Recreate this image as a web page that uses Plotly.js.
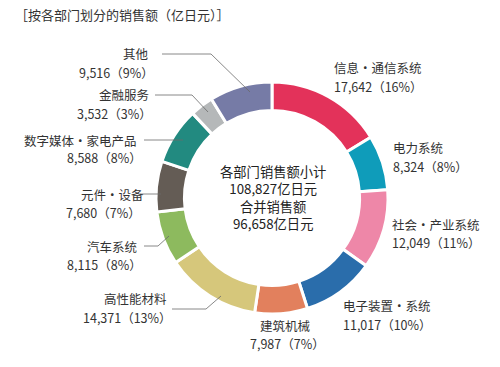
<!DOCTYPE html>
<html>
<head>
<meta charset="utf-8">
<script src="https://cdn.plot.ly/plotly-3.0.1.min.js"></script>
<style>
  html, body { margin: 0; padding: 0; background: #fff; }
  #chart { width: 500px; height: 367px; }
</style>
</head>
<body>
<div id="chart"></div>
<script>
// ---- Data ----
const categories = ["信息·通信系统", "电力系统", "社会·产业系统", "电子装置·系统", "建筑机械",
  "高性能材料", "汽车系统", "元件·设备", "数字媒体·家电产品", "金融服务", "其他"];
const sales = [17642, 8324, 12049, 11017, 7987, 14371, 8115, 7680, 8588, 3532, 9516];
const shares = [16, 8, 11, 10, 7, 13, 8, 7, 8, 3, 9];
const colors = ["#e3325a", "#0f9cba", "#ee87a8", "#2a6dab", "#e2805d",
  "#d6c77b", "#8dba5e", "#645c55", "#228a80", "#b5b8b9", "#767ba6"];
const titleText = "［按各部门划分的销售额（亿日元）］";
const centerLines = ["各部门销售额小计", "108,827亿日元", "合并销售额", "96,658亿日元"];

// ---- Layout helpers (pixel -> paper) ----
const W = 500, H = 367;
const px = x => x / W;
const py = y => 1 - y / H;
const FONT = "Noto Sans CJK SC, Noto Sans, sans-serif";

// label placement: [anchor, x, nameY, valueX, valueY]
const labelPos = [
  ["left", 333, 67, 333, 86],
  ["left", 392, 148, 392, 166],
  ["left", 391, 224, 391, 242],
  ["left", 342, 305, 342, 324],
  ["center", 285, 325, 287, 343],
  ["right", 168, 298, 173, 317],
  ["right", 138, 246, 143, 264],
  ["right", 145, 194, 142, 212],
  ["right", 138, 140, 143, 158],
  ["right", 150, 95, 153, 113],
  ["right", 150, 53, 155, 72]
];

const annotations = [];
categories.forEach((c, i) => {
  const [anc, nx, ny, vx, vy] = labelPos[i];
  const common = {xref: "paper", yref: "paper", showarrow: false, xanchor: anc, yanchor: "middle",
    font: {family: FONT, size: 12.5, color: "#333"}, borderpad: 0};
  annotations.push(Object.assign({}, common, {x: px(nx), y: py(ny), text: c}));
  annotations.push(Object.assign({}, common, {x: px(vx), y: py(vy),
    text: sales[i].toLocaleString("en-US") + "（" + shares[i] + "%）"}));
});
annotations.push({xref: "paper", yref: "paper", showarrow: false, xanchor: "center", yanchor: "middle",
  x: px(273), y: py(197), text: centerLines.join("<br>"), align: "center", borderpad: 0,
  font: {family: FONT, size: 13.3, color: "#222"}});
annotations.push({xref: "paper", yref: "paper", showarrow: false, xanchor: "left", yanchor: "middle",
  x: px(14), y: py(14), text: titleText, borderpad: 0,
  font: {family: FONT, size: 13, color: "#333"}});

// leader lines (pixel points)
const leaders = [
  [[162, 54], [211, 54], [250, 92]],
  [[155, 95], [192, 95], [208, 112]],
  [[144, 140], [183, 140]],
  [[140, 194], [161, 194]],
  [[144, 246], [158, 246], [169, 236]],
  [[172, 309], [206, 309], [221, 296]]
];
const shapes = leaders.map(pts => ({
  type: "path", xref: "paper", yref: "paper",
  path: pts.map((p, k) => (k ? "L" : "M") + px(p[0]) + "," + py(p[1])).join(" "),
  line: {color: "#6a6a6a", width: 0.8}
}));

const cx = 272, cy = 198, r = 116;
const trace = {
  type: "pie",
  labels: categories,
  values: sales,
  sort: false,
  direction: "clockwise",
  rotation: 0,
  hole: 0.755,
  textinfo: "none",
  hoverinfo: "label+value+percent",
  marker: {colors: colors, line: {color: "#ffffff", width: 3}},
  domain: {x: [px(cx - r), px(cx + r)], y: [py(cy + r), py(cy - r)]},
  showlegend: false
};

const layout = {
  width: W, height: H,
  margin: {l: 0, r: 0, t: 0, b: 0},
  paper_bgcolor: "#ffffff",
  plot_bgcolor: "#ffffff",
  showlegend: false,
  annotations: annotations,
  shapes: shapes
};

Plotly.newPlot("chart", [trace], layout, {displayModeBar: false, staticPlot: true});
</script>
</body>
</html>
